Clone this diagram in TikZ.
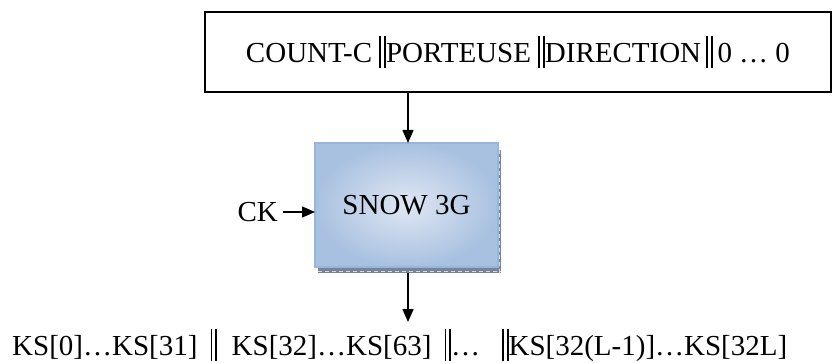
\documentclass[tikz,border=0pt]{standalone}
\usepackage{fontspec}
\setmainfont{Liberation Serif}
\usetikzlibrary{arrows.meta}
\newcommand\dbar{\raisebox{-0.2em}{\rule{0.065em}{1.1em}\hspace{0.1em}\rule{0.065em}{1.1em}}}
\definecolor{boxedge}{RGB}{150,182,222}
\definecolor{boxin}{RGB}{224,231,243}
\definecolor{boxout}{RGB}{168,193,224}
\definecolor{shadowc}{RGB}{120,132,150}
\tikzset{
  conn/.style={line width=1.5pt,-{Triangle[length=13pt,width=11pt]}},
  lbl/.style={font=\fontsize{29}{33}\selectfont, inner sep=0pt},
}
\begin{document}
\begin{tikzpicture}[x=1pt,y=1pt]
\useasboundingbox (0,0) rectangle (832,-363);
% top box
\node[draw, line width=1.5pt, minimum width=626pt, minimum height=80pt, inner sep=0pt,
      font=\fontsize{29}{33}\selectfont] (inp) at (518,-52)
  {COUNT-C \dbar PORTEUSE \dbar DIRECTION\,\dbar\,0 \dots{} 0};
% shadow of SNOW 3G box
\fill[shadowc] (318,-150) rectangle (501,-273);
\draw[white!70!shadowc, line width=0.8pt, dash pattern=on 4pt off 3pt] (318,-271) -- (501,-271);
\draw[white!70!shadowc, line width=0.8pt, dash pattern=on 4pt off 3pt] (499.5,-150) -- (499.5,-273);
% SNOW 3G box
\node[draw=boxedge, line width=1.5pt, inner color=boxin, outer color=boxout,
      minimum width=183pt, minimum height=124pt, inner sep=0pt,
      font=\fontsize{29}{33}\selectfont] (snow) at (406.5,-205) {SNOW 3G};
% CK
\node[lbl, anchor=east] (ck) at (278,-212) {CK};
\coordinate (snowtop) at (408,-143);
\coordinate (snowbot) at (408,-273);
\coordinate (ckin) at (315,-212);
\draw[conn] (inp.south -| snowtop) -- (snowtop);
\draw[conn] (ck.east) ++(5,0) -- (ckin);
% output
\node[lbl, anchor=base west] (out) at (12,-355)
  {KS[0]\dots KS[31]\hspace{0.45em}\dbar\hspace{0.5em}KS[32]\dots KS[63]\hspace{0.45em}\dbar\dots\hspace{0.75em}\dbar KS[32(L-1)]\dots KS[32L]};
\draw[conn] (snowbot) -- (408,-322);
\end{tikzpicture}
\end{document}
